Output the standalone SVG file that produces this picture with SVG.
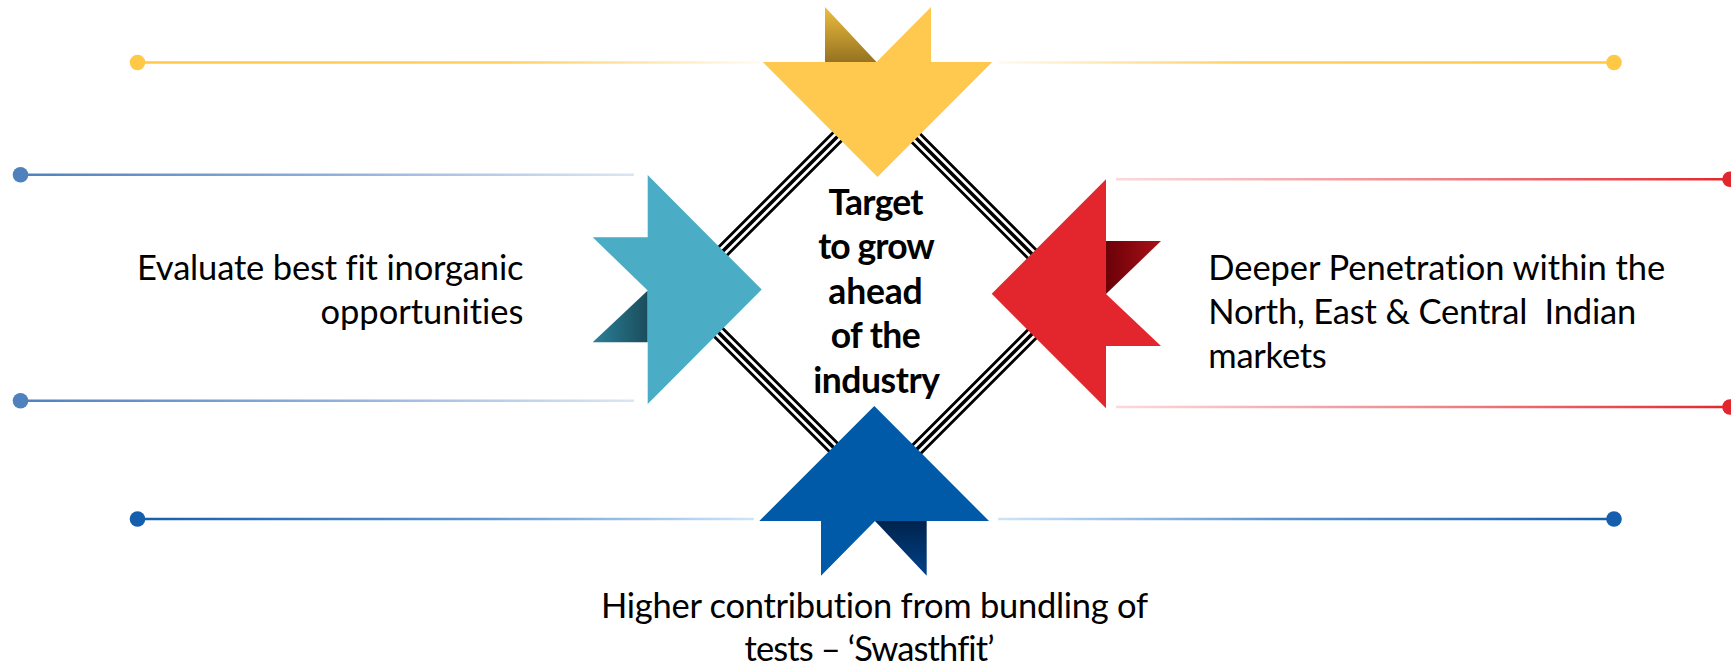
<svg xmlns="http://www.w3.org/2000/svg" width="1731" height="669" viewBox="0 0 1731 669">
<style>
.lbl{font-family:Lato,"Open Sans","Liberation Sans",sans-serif;font-size:34.5px;fill:#000;font-variant-ligatures:none}
.ctr{font-family:Lato,"Open Sans","Liberation Sans",sans-serif;font-size:35.5px;font-weight:bold;fill:#000;text-anchor:middle;font-variant-ligatures:none}
.ln{stroke-width:2.6;fill:none}
.dm{fill:none}
</style>
<defs>
<linearGradient id="gYL" gradientUnits="userSpaceOnUse" x1="138" y1="0" x2="760" y2="0"><stop offset="0" stop-color="#FFC845"/><stop offset="0.6" stop-color="#FFC845" stop-opacity="0.85"/><stop offset="1" stop-color="#FFC845" stop-opacity="0.08"/></linearGradient>
<linearGradient id="gYR" gradientUnits="userSpaceOnUse" x1="998" y1="0" x2="1614" y2="0"><stop offset="0" stop-color="#FFC845" stop-opacity="0.08"/><stop offset="0.4" stop-color="#FFC845" stop-opacity="0.85"/><stop offset="1" stop-color="#FFC845"/></linearGradient>
<linearGradient id="gBL" gradientUnits="userSpaceOnUse" x1="20" y1="0" x2="634" y2="0"><stop offset="0" stop-color="#4F81BD"/><stop offset="0.5" stop-color="#8FAEDB"/><stop offset="1" stop-color="#DCE6F2"/></linearGradient>
<linearGradient id="gRR" gradientUnits="userSpaceOnUse" x1="1116" y1="0" x2="1730" y2="0"><stop offset="0" stop-color="#FBDADC"/><stop offset="0.5" stop-color="#EE8A8F"/><stop offset="1" stop-color="#E3262D"/></linearGradient>
<linearGradient id="gNL" gradientUnits="userSpaceOnUse" x1="138" y1="0" x2="754" y2="0"><stop offset="0" stop-color="#155DAD"/><stop offset="0.55" stop-color="#5D95D2"/><stop offset="1" stop-color="#CFE4F7"/></linearGradient>
<linearGradient id="gNR" gradientUnits="userSpaceOnUse" x1="998" y1="0" x2="1614" y2="0"><stop offset="0" stop-color="#CFE4F7"/><stop offset="0.45" stop-color="#5D95D2"/><stop offset="1" stop-color="#155DAD"/></linearGradient>
<linearGradient id="dY" x1="0" y1="0" x2="0" y2="1"><stop offset="0" stop-color="#EDBE3E"/><stop offset="1" stop-color="#967222"/></linearGradient>
<linearGradient id="dT" x1="0" y1="0" x2="1" y2="0"><stop offset="0" stop-color="#2B8099"/><stop offset="1" stop-color="#1A4D5C"/></linearGradient>
<linearGradient id="dR" x1="0" y1="0" x2="1" y2="0"><stop offset="0" stop-color="#6B0007"/><stop offset="1" stop-color="#AA1118"/></linearGradient>
<linearGradient id="dB" x1="0" y1="0" x2="0" y2="1"><stop offset="0" stop-color="#00234C"/><stop offset="1" stop-color="#004289"/></linearGradient>
</defs>

<g id="connectors">
<line class="ln" x1="138" y1="62.5" x2="760" y2="62.5" stroke="url(#gYL)"/>
<line class="ln" x1="998" y1="62.5" x2="1614" y2="62.5" stroke="url(#gYR)"/>
<circle cx="137.5" cy="62.5" r="7.8" fill="#FFC845"/>
<circle cx="1614" cy="62.5" r="7.8" fill="#FFC845"/>
<line class="ln" x1="20" y1="174.7" x2="634" y2="174.7" stroke="url(#gBL)"/>
<line class="ln" x1="20" y1="400.7" x2="634" y2="400.7" stroke="url(#gBL)"/>
<circle cx="20.5" cy="174.7" r="7.8" fill="#4F81BD"/>
<circle cx="20.5" cy="400.7" r="7.8" fill="#4F81BD"/>
<line class="ln" x1="1116" y1="179.3" x2="1730" y2="179.3" stroke="url(#gRR)"/>
<line class="ln" x1="1116" y1="407" x2="1730" y2="407" stroke="url(#gRR)"/>
<circle cx="1730" cy="179.3" r="7.8" fill="#E3262D"/>
<circle cx="1730" cy="407" r="7.8" fill="#E3262D"/>
<line class="ln" x1="138" y1="519" x2="754" y2="519" stroke="url(#gNL)"/>
<line class="ln" x1="998" y1="519" x2="1614" y2="519" stroke="url(#gNR)"/>
<circle cx="137.5" cy="519" r="7.8" fill="#155DAD"/>
<circle cx="1614" cy="519" r="7.8" fill="#155DAD"/>
</g>

<g id="diamond">
<polygon class="dm" points="876,98 1072,294 876,490 680,294" stroke="#000" stroke-width="14.5"/>
<polygon class="dm" points="876,98 1072,294 876,490 680,294" stroke="#fff" stroke-width="8.9"/>
<polygon class="dm" points="876,98 1072,294 876,490 680,294" stroke="#000" stroke-width="3.6"/>
</g>

<g id="arrow-top">
<polygon points="825,7 876.5,62 825,62" fill="url(#dY)"/>
<polygon points="762.7,62 876.5,62 931,7 931,62 992.3,62 877.5,177" fill="#FFC94F"/>
</g>

<g id="arrow-left">
<polygon points="592.7,342.3 647.7,290.5 647.7,342.3" fill="url(#dT)"/>
<polygon points="647.7,175 761.7,289.6 647.7,404 647.7,290.5 592.7,237.3 647.7,237.3" fill="#4BACC6"/>
</g>

<g id="arrow-right">
<polygon points="1106,241 1161,241 1106,294" fill="url(#dR)"/>
<polygon points="1106,179.3 1106,294 1161,346 1106,346 1106,408.3 991.7,293.8" fill="#E3262D"/>
</g>

<g id="arrow-bottom">
<polygon points="875,521 926.7,521 926.7,575.7" fill="url(#dB)"/>
<polygon points="874.3,406 989,521 875,521 821,575.7 821,521 759.3,521" fill="#005AA8"/>
</g>

<g id="center">
<text class="ctr" x="876" y="214.5" textLength="95">Target</text>
<text class="ctr" x="876.5" y="259" textLength="116.7">to grow</text>
<text class="ctr" x="875.5" y="303.6" textLength="94.4">ahead</text>
<text class="ctr" x="875.7" y="348.2" textLength="90">of the</text>
<text class="ctr" x="876.6" y="392.8" textLength="126.7">industry</text>
</g>

<g id="label-left">
<text class="lbl" x="523.5" y="280" text-anchor="end" textLength="386.6">Evaluate best fit inorganic</text>
<text class="lbl" x="523.5" y="323.5" text-anchor="end" textLength="203">opportunities</text>
</g>

<g id="label-right">
<text class="lbl" x="1208.3" y="280" textLength="457">Deeper Penetration within the</text>
<text class="lbl" x="1208.3" y="324" textLength="428" xml:space="preserve">North, East &amp; Central  Indian</text>
<text class="lbl" x="1208.3" y="368.3" textLength="118.5">markets</text>
</g>

<g id="label-bottom">
<text class="lbl" x="874.5" y="618" text-anchor="middle" textLength="547">Higher contribution from bundling of</text>
<text class="lbl" x="869.5" y="661" text-anchor="middle" textLength="250">tests – ‘Swasthfit’</text>
</g>
</svg>
